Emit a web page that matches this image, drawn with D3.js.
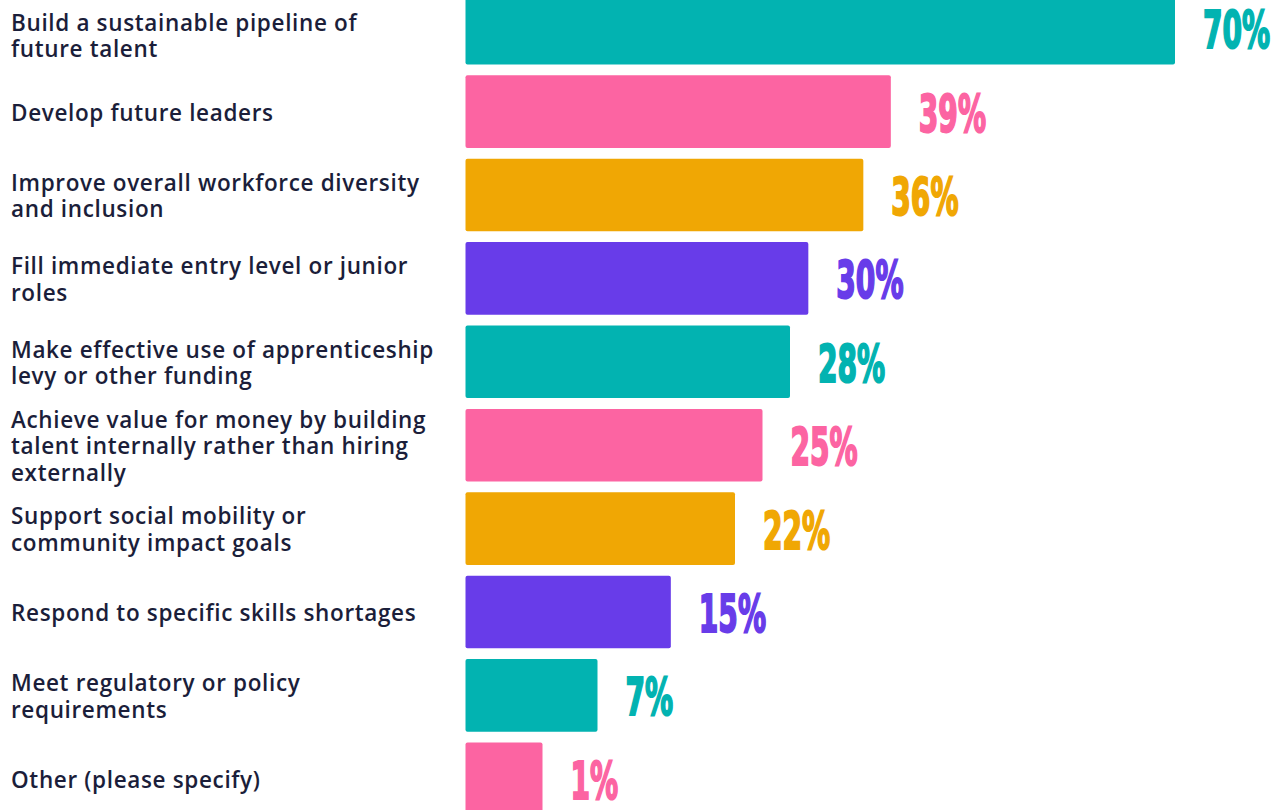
<!DOCTYPE html>
<html>
<head>
<meta charset="utf-8">
<script src="https://cdn.jsdelivr.net/npm/d3@7"></script>
<style>
  html, body { margin: 0; padding: 0; background: #ffffff; overflow: hidden; }
  svg { display: block; }
</style>
</head>
<body>
<svg id="chart" width="1277" height="810"></svg>
<script>
// Survey answers: reasons for investing in early-careers talent programmes
const categories = [
  ["Build a sustainable pipeline of", "future talent"],
  ["Develop future leaders"],
  ["Improve overall workforce diversity", "and inclusion"],
  ["Fill immediate entry level or junior", "roles"],
  ["Make effective use of apprenticeship", "levy or other funding"],
  ["Achieve value for money by building", "talent internally rather than hiring", "externally"],
  ["Support social mobility or", "community impact goals"],
  ["Respond to specific skills shortages"],
  ["Meet regulatory or policy", "requirements"],
  ["Other (please specify)"]
];
const values = [70, 39, 36, 30, 28, 25, 22, 15, 7, 1];
const palette = ["#02B3B1", "#FC64A2", "#F0A704", "#683CE9"];

const svg = d3.select("#chart");

const ids = categories.map((c, i) => i);

const y = d3.scaleBand()
  .domain(ids)
  .range([-13.5, 820.5])
  .paddingInner(0.13)
  .paddingOuter(0.065);

const x = d3.scaleLinear()
  .domain([-7.4, 70])
  .range([465.5, 1175]);

const color = i => palette[i % palette.length];

// bars
svg.append("g")
  .selectAll("rect")
  .data(ids)
  .join("rect")
  .attr("x", x(-7.4))
  .attr("y", i => y(i))
  .attr("width", i => x(values[i]) - x(-7.4))
  .attr("height", y.bandwidth())
  .attr("rx", 2)
  .attr("fill", color);

// category labels
const labels = svg.append("g")
  .attr("font-family", "'Open Sans', 'Noto Sans', sans-serif")
  .attr("font-weight", 600)
  .attr("font-size", 22.5)
  .attr("letter-spacing", 0.65)
  .attr("fill", "#1B1E3A");

const lineH = 26.5;
labels.selectAll("text")
  .data(ids)
  .join("text")
  .attr("x", 11)
  .attr("y", i => {
    const n = categories[i].length;
    const cy = y(i) + y.bandwidth() / 2 + (i === 0 ? 8 : 1);
    return cy - (n - 1) * lineH / 2 + 8;
  })
  .each(function(i) {
    const t = d3.select(this);
    categories[i].forEach((line, k) => {
      t.append("tspan")
        .attr("x", 11)
        .attr("dy", k === 0 ? 0 : lineH)
        .text(line);
    });
  });

// value labels, narrow heavy figures
const sx = 0.6;
svg.append("g")
  .selectAll("text")
  .data(ids)
  .join("text")
  .attr("transform", i => `translate(${x(values[i]) + 28},${y(i) + y.bandwidth() / 2 + 20}) scale(${sx},1)`)
  .attr("font-family", "'DejaVu Sans Condensed', 'DejaVu Sans', sans-serif")
  .attr("font-weight", 700)
  .attr("font-size", 52)
  .attr("fill", color)
  .attr("stroke", color)
  .attr("stroke-width", 2)
  .text(i => values[i] + "%");
</script>
</body>
</html>
